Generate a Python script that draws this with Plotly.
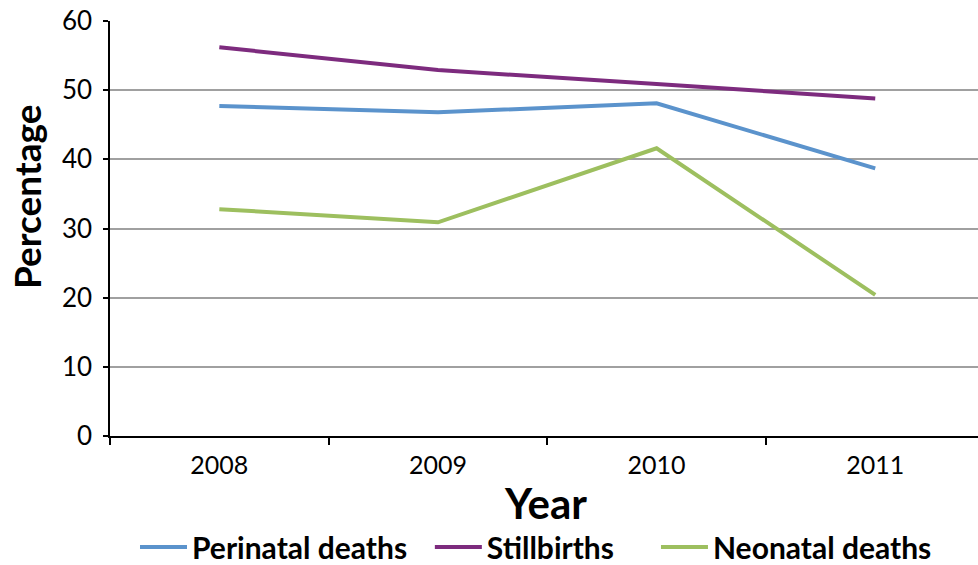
import plotly.graph_objects as go

years = ["2008", "2009", "2010", "2011"]
perinatal = [47.7, 46.8, 48.1, 38.7]
stillbirths = [56.2, 52.9, 50.9, 48.8]
neonatal = [32.8, 30.9, 41.6, 20.4]

series = [
    ("Perinatal deaths", perinatal, "#5B93CC", "legend", 0.0288),
    ("Stillbirths", stillbirths, "#7D2B7E", "legend2", 0.3685),
    ("Neonatal deaths", neonatal, "#9DBF5F", "legend3", 0.629),
]

font_family = "Lato, 'Open Sans', sans-serif"

fig = go.Figure()
legends = {}
for name, vals, color, leg, lx in series:
    fig.add_trace(go.Scatter(
        x=years, y=vals, name=name, mode="lines",
        line=dict(color=color, width=4), legend=leg,
    ))
    legends[leg] = dict(
        orientation="h", x=lx, xanchor="left", y=-0.205, yanchor="top",
        font=dict(size=30, family=font_family, weight="bold"),
        itemwidth=47, bgcolor="rgba(0,0,0,0)",
    )

fig.update_layout(
    width=978, height=565,
    margin=dict(l=110, r=0, t=21, b=129, autoexpand=False),
    paper_bgcolor="white", plot_bgcolor="white",
    font=dict(family=font_family, color="black", size=25),
    showlegend=True,
    xaxis=dict(
        type="category", range=[-0.5, 3.47],
        tickson="boundaries", ticks="outside", ticklen=7, tickwidth=1.5,
        tickcolor="black", showline=True, linecolor="black", linewidth=1.5,
        showgrid=False, tickfont=dict(size=25), ticklabelstandoff=6,
    ),
    yaxis=dict(
        range=[0, 60], dtick=10, ticks="outside", ticklen=5, tickwidth=1.5,
        tickcolor="black", showline=True, linecolor="black", linewidth=1.5,
        showgrid=True, gridcolor="#A0A0A0", gridwidth=1.5,
        tickfont=dict(size=26), zeroline=False, ticklabelstandoff=6,
    ),
    annotations=[
        dict(text="Percentage", xref="paper", yref="paper", x=-0.0956, y=0.576,
             xanchor="center", yanchor="middle", textangle=-90, showarrow=False,
             font=dict(size=37, family=font_family, weight="bold")),
        dict(text="Year", xref="paper", yref="paper", x=0.502, y=-0.161,
             xanchor="center", yanchor="middle", showarrow=False,
             font=dict(size=42, family=font_family, weight="bold")),
    ],
    **legends,
)

fig.write_html("out.html")
